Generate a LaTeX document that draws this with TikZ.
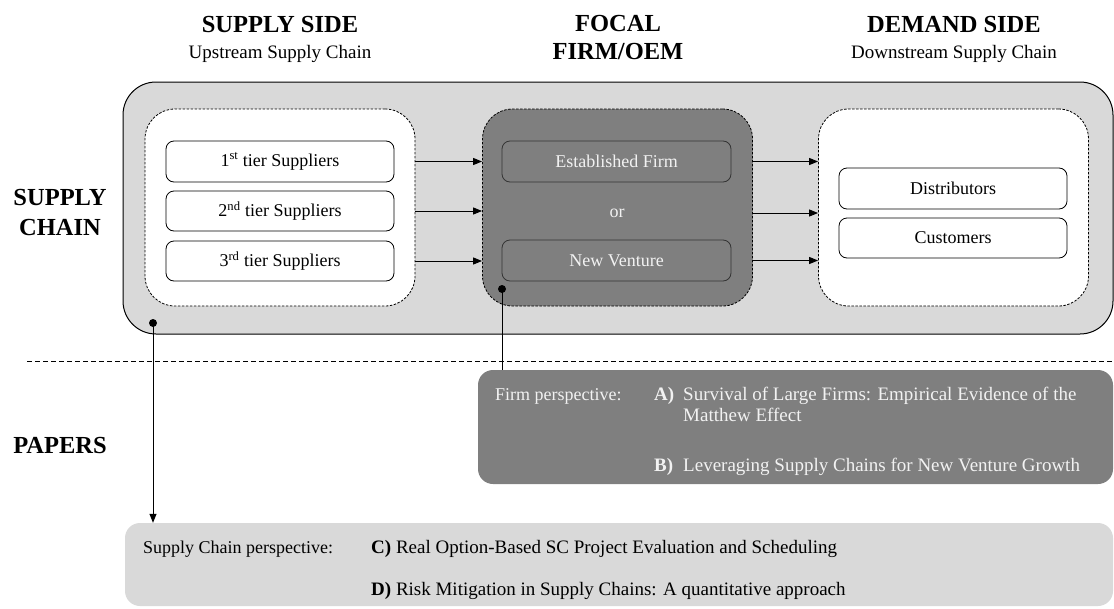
\documentclass[tikz,border=0pt]{standalone}
\usepackage{fontspec}
\setmainfont{Liberation Serif}
\usetikzlibrary{arrows.meta}
\definecolor{lightgr}{HTML}{D9D9D9}
\definecolor{midgr}{HTML}{7F7F7F}
\definecolor{paletxt}{HTML}{F2F2F2}
\begin{document}
\begin{tikzpicture}[x=1pt,y=-1pt,
  hdr/.style={font=\fontsize{24.5}{28}\selectfont\bfseries, inner sep=0, anchor=base},
  subhdr/.style={font=\fontsize{19}{22}\selectfont, inner sep=0, anchor=base},
  body/.style={font=\fontsize{18}{21}\selectfont, inner sep=0, anchor=base west},
  title/.style={font=\fontsize{19}{22}\selectfont, inner sep=0, anchor=base west},
  grpbox/.style={draw, line width=0.8pt, dash pattern=on 2.5pt off 1.5pt, rounded corners=30pt,
     minimum width=270pt, minimum height=197pt, inner sep=0},
  itembox/.style={draw, line width=0.8pt, rounded corners=8pt, minimum width=228pt,
     minimum height=41pt, inner sep=0, font=\fontsize{18}{21}\selectfont},
  flow/.style={line width=1pt, -{Triangle[length=9pt,width=7pt]}},
  dotline/.style={line width=1pt}
]
\useasboundingbox (0,0) rectangle (1114,608);

% headers
\node[hdr] (hsupply) at (280,32) {SUPPLY SIDE};
\node[subhdr] (hup) at (280,58) {Upstream Supply Chain};
\node[hdr] (hfocal) at (618,31) {FOCAL};
\node[hdr] (hfirm) at (618,59) {FIRM/OEM};
\node[hdr] (hdemand) at (954,32) {DEMAND SIDE};
\node[subhdr] (hdown) at (954,58) {Downstream Supply Chain};

\node[hdr] (lsupply) at (60,205) {SUPPLY};
\node[hdr] (lchain) at (60,235) {CHAIN};
\node[hdr] (lpapers) at (60,453) {PAPERS};

% supply chain panel
\node[draw, fill=lightgr, line width=1pt, rounded corners=33pt, minimum width=990pt,
  minimum height=252pt, inner sep=0] (scbox) at (618,208) {};

\node[grpbox, fill=white] (upgrp) at (280,207.5) {};
\node[grpbox, fill=midgr] (focgrp) at (617.5,207.5) {};
\node[grpbox, fill=white] (downgrp) at (953.5,207.5) {};

\node[itembox] (s1) at (280,161.5) {1\textsuperscript{st} tier Suppliers};
\node[itembox, minimum height=40pt] (s2) at (280,211) {2\textsuperscript{nd} tier Suppliers};
\node[itembox, minimum height=40pt] (s3) at (280,261) {3\textsuperscript{rd} tier Suppliers};

\node[itembox, draw=black!80, fill=midgr, text=paletxt, minimum width=229pt] (est) at (616.5,161.5) {Established Firm};
\node[inner sep=0, text=paletxt, font=\fontsize{18}{21}\selectfont] (ornode) at (617,213) {or};
\node[itembox, draw=black!80, fill=midgr, text=paletxt, minimum width=229pt] (nv) at (616.5,260.5) {New Venture};

\node[itembox] (dist) at (953,188.5) {Distributors};
\node[itembox, minimum height=40pt] (cust) at (953,238) {Customers};

\draw[flow] (upgrp.east |- s1) -- (focgrp.west |- s1);
\draw[flow] (upgrp.east |- s2) -- (focgrp.west |- s2);
\draw[flow] (upgrp.east |- s3) -- (focgrp.west |- s3);
\draw[flow] (focgrp.east |- est) -- (downgrp.west |- est);
\draw[flow] (focgrp.east |- ornode) -- (downgrp.west |- ornode);
\draw[flow] (focgrp.east |- nv) -- (downgrp.west |- nv);

% separator
\coordinate (sepL) at (27,361);
\coordinate (sepR) at (1114,361);
\draw[line width=1pt, dash pattern=on 5pt off 3pt] (sepL) -- (sepR);

% paper panels
\node[fill=midgr, rounded corners=15pt, minimum width=635pt, minimum height=114pt, inner sep=0] (firmbox) at (795.5,427) {};
\node[fill=lightgr, rounded corners=15pt, minimum width=988pt, minimum height=83pt, inner sep=0] (scpbox) at (619,564.5) {};

\begin{scope}[every node/.append style={text=paletxt}]
\node[body] (fp) at (495,400) {Firm perspective:};
\node[title] (pa) at (654,400) {\textbf{A)}};
\node[title] (pat) at (683,400) {Survival of Large Firms: Empirical Evidence of the};
\node[title] (pat2) at (683,421) {Matthew Effect};
\node[title] (pb) at (654,471) {\textbf{B)}};
\node[title] (pbt) at (683,471) {Leveraging Supply Chains for New Venture Growth};
\end{scope}

\node[body] (scp) at (143,553) {Supply Chain perspective:};
\node[title] (pc) at (371,553) {\textbf{C)} Real Option-Based SC Project Evaluation and Scheduling};
\node[title] (pd) at (371,595) {\textbf{D)} Risk Mitigation in Supply Chains: A quantitative approach};

% connectors from panels to papers
\coordinate (dotL) at (153,323);
\coordinate (dotR) at (502,289);
\fill (dotL) circle (4pt);
\fill (dotR) circle (4pt);
\draw[dotline] (dotR) -- (dotR |- firmbox.north);
\draw[dotline, -{Triangle[length=9pt,width=7pt]}] (dotL) -- (dotL |- scpbox.north);
\end{tikzpicture}
\end{document}
